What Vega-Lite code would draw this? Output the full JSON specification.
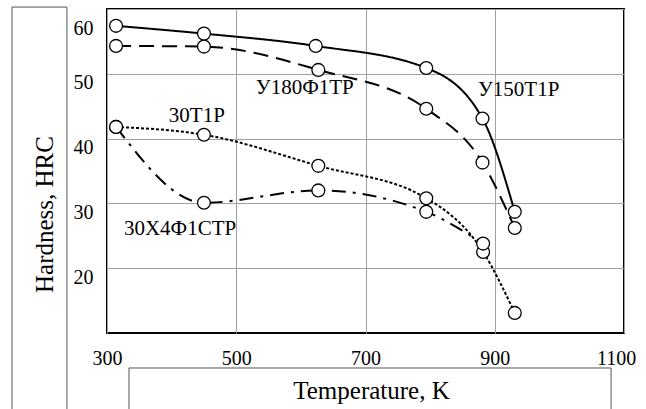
{
  "$schema": "https://vega.github.io/schema/vega-lite/v6.json",
  "width": 517,
  "height": 324,
  "autosize": {"type": "none"},
  "padding": {"left": 107, "top": 9, "right": 22, "bottom": 76},
  "background": "white",
  "config": {
    "view": {"stroke": "black", "strokeWidth": 2},
    "font": "Liberation Serif",
    "text": {"font": "Liberation Serif"},
    "axis": {
      "labelFont": "Liberation Serif",
      "titleFont": "Liberation Serif",
      "labelColor": "black",
      "titleColor": "black",
      "titleFontWeight": "normal",
      "gridColor": "#a0a0a0",
      "gridWidth": 1,
      "gridOpacity": 1,
      "domain": false,
      "ticks": false,
      "tickSize": 0
    }
  },
  "datasets": {
    "curves": [
      {"series": "У150Т1Р", "temperature": 314, "hardness": 57.4},
      {"series": "У150Т1Р", "temperature": 450, "hardness": 56.2},
      {"series": "У150Т1Р", "temperature": 623, "hardness": 54.3},
      {"series": "У150Т1Р", "temperature": 794, "hardness": 50.9},
      {"series": "У150Т1Р", "temperature": 881, "hardness": 43.1},
      {"series": "У150Т1Р", "temperature": 931, "hardness": 28.7},
      {"series": "У180Ф1ТР", "temperature": 314, "hardness": 54.3},
      {"series": "У180Ф1ТР", "temperature": 450, "hardness": 54.2},
      {"series": "У180Ф1ТР", "temperature": 627, "hardness": 50.6},
      {"series": "У180Ф1ТР", "temperature": 794, "hardness": 44.6},
      {"series": "У180Ф1ТР", "temperature": 881, "hardness": 36.3},
      {"series": "У180Ф1ТР", "temperature": 931, "hardness": 26.2},
      {"series": "30Т1Р", "temperature": 314, "hardness": 41.8},
      {"series": "30Т1Р", "temperature": 450, "hardness": 40.6},
      {"series": "30Т1Р", "temperature": 627, "hardness": 35.8},
      {"series": "30Т1Р", "temperature": 794, "hardness": 30.8},
      {"series": "30Т1Р", "temperature": 882, "hardness": 22.5},
      {"series": "30Т1Р", "temperature": 931, "hardness": 13.1},
      {"series": "30Х4Ф1СТР", "temperature": 314, "hardness": 41.8},
      {"series": "30Х4Ф1СТР", "temperature": 450, "hardness": 30.1},
      {"series": "30Х4Ф1СТР", "temperature": 627, "hardness": 32.0},
      {"series": "30Х4Ф1СТР", "temperature": 794, "hardness": 28.7},
      {"series": "30Х4Ф1СТР", "temperature": 882, "hardness": 23.8}
    ],
    "labels": [
      {"label": "У180Ф1ТР", "temperature": 606, "hardness": 46.9},
      {"label": "У150Т1Р", "temperature": 937, "hardness": 46.5},
      {"label": "30Т1Р", "temperature": 439, "hardness": 42.6},
      {"label": "30Х4Ф1СТР", "temperature": 413, "hardness": 25.1}
    ]
  },
  "layer": [
    {
      "data": {"name": "curves"},
      "mark": {"type": "line", "interpolate": "monotone", "color": "black", "strokeWidth": 2, "clip": false},
      "encoding": {
        "x": {
          "field": "temperature",
          "type": "quantitative",
          "scale": {"domain": [300, 1100], "nice": false, "zero": false},
          "axis": {
            "values": [300, 500, 700, 900, 1100],
            "format": "d",
            "labelFont": "Liberation Serif",
            "labelFontSize": 20,
            "labelBaseline": "top",
            "labelPadding": 15,
            "labelFlush": false,
            "labelOffset": {"condition": {"test": "datum.value == 1100", "value": -8}, "value": 0},
            "title": "Temperature, K",
            "titleFont": "Liberation Serif",
            "titleFontSize": 25,
            "titleX": 264,
            "titleY": 65,
            "titleBaseline": "alphabetic",
            "titleAlign": "center"
          }
        },
        "y": {
          "field": "hardness",
          "type": "quantitative",
          "scale": {"domain": [10, 60], "nice": false, "zero": false},
          "axis": {
            "values": [20, 30, 40, 50, 60],
            "format": "d",
            "labelFont": "Liberation Serif",
            "labelFontSize": 20,
            "labelBaseline": "top",
            "labelPadding": 14,
            "labelOffset": {"condition": {"test": "datum.value == 60", "value": 9}, "value": -1},
            "title": "Hardness, HRC",
            "titleFont": "Liberation Serif",
            "titleFontSize": 25,
            "titleAngle": 270,
            "titleX": -55,
            "titleY": 205,
            "titleBaseline": "alphabetic",
            "titleAlign": "center"
          }
        },
        "detail": {"field": "series"},
        "strokeDash": {
          "field": "series",
          "type": "nominal",
          "scale": {
            "domain": ["У150Т1Р", "У180Ф1ТР", "30Т1Р", "30Х4Ф1СТР"],
            "range": [[1, 0], [15, 8], [3, 2], [14, 7, 3, 7]]
          },
          "legend": null
        }
      }
    },
    {
      "data": {"name": "curves"},
      "mark": {"type": "point", "shape": "circle", "filled": true, "fill": "white", "stroke": "black", "strokeWidth": 1.3, "size": 165, "opacity": 1, "clip": false},
      "encoding": {
        "x": {"field": "temperature", "type": "quantitative"},
        "y": {"field": "hardness", "type": "quantitative"}
      }
    },
    {
      "data": {"name": "labels"},
      "mark": {"type": "text", "font": "Liberation Serif", "fontSize": 21, "color": "black", "align": "center", "baseline": "alphabetic"},
      "encoding": {
        "x": {"field": "temperature", "type": "quantitative"},
        "y": {"field": "hardness", "type": "quantitative"},
        "text": {"field": "label", "type": "nominal"}
      }
    },
    {
      "data": {"values": [{}]},
      "mark": {"type": "rect", "fill": null, "fillOpacity": 0, "stroke": "#555555", "strokeWidth": 1, "clip": false},
      "encoding": {
        "x": {"datum": 153, "type": "quantitative"},
        "x2": {"datum": 238},
        "y": {"datum": 60.3, "type": "quantitative"},
        "y2": {"datum": -4}
      }
    },
    {
      "data": {"values": [{}]},
      "mark": {"type": "rect", "fill": null, "fillOpacity": 0, "stroke": "#555555", "strokeWidth": 1, "clip": false},
      "encoding": {
        "x": {"datum": 334, "type": "quantitative"},
        "x2": {"datum": 1080},
        "y": {"datum": 4.6, "type": "quantitative"},
        "y2": {"datum": -4}
      }
    }
  ]
}
